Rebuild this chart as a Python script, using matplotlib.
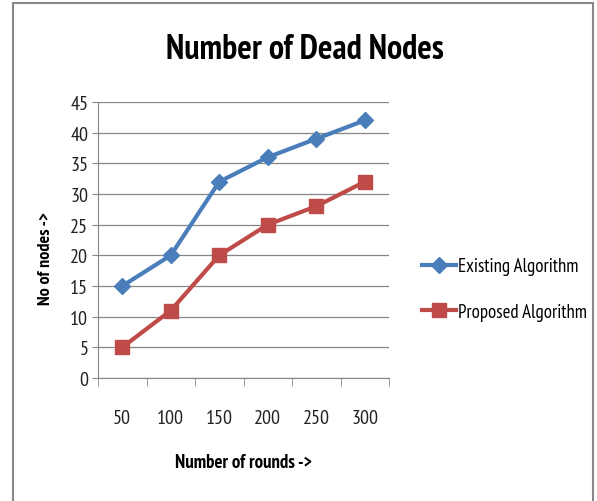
import matplotlib
matplotlib.use("Agg")
import matplotlib.pyplot as plt
from matplotlib.patches import Rectangle
from matplotlib import font_manager as fm

rounds = ["50", "100", "150", "200", "250", "300"]
existing = [15, 20, 32, 36, 39, 42]
proposed = [5, 11, 20, 25, 28, 32]
yticks = [0, 5, 10, 15, 20, 25, 30, 35, 40, 45]

available = {f.name for f in fm.fontManager.ttflist}
family = 'DejaVu Sans'
for cand in ['PT Sans Narrow', 'Archivo Narrow', 'Asap Condensed', 'Roboto Condensed', 'Carlito', 'Lato']:
    if cand in available:
        family = cand
        break
plt.rcParams['font.family'] = [family, 'DejaVu Sans']

W, H = 597, 502
fig = plt.figure(figsize=(W/100, H/100), dpi=100)
ax = fig.add_axes([98/W, 1-379/H, (389-98)/W, (379-103)/H])

x = list(range(1, len(rounds)+1))
ax.plot(x, existing, color='#4A7EBB', lw=3, marker='D', ms=8.5, label='Existing Algorithm')
ax.plot(x, proposed, color='#BE4B48', lw=3, marker='s', ms=10, label='Proposed Algorithm')

ax.set_xlim(0.5, len(rounds)+0.5)
ax.set_ylim(0, 45)
ax.set_yticks(yticks)
ax.set_yticklabels([str(v) for v in yticks], fontsize=14.5, color='#222222')
ax.set_xticks(x)
ax.set_xticklabels(rounds, fontsize=14.5, color='#222222')
ax.set_xticks([i+0.5 for i in range(len(rounds)+1)], minor=True)
ax.tick_params(axis='x', which='major', length=0, pad=22)
ax.tick_params(axis='x', which='minor', length=6, color='#868686')
ax.tick_params(axis='y', length=4, color='#868686', pad=3)
ax.grid(axis='y', color='#868686', lw=0.9)
ax.set_axisbelow(True)
for s in ['top', 'right']:
    ax.spines[s].set_visible(False)
for s in ['left', 'bottom']:
    ax.spines[s].set_color('#868686')

fig.text(305/W, 1-50/H, "Number of Dead Nodes", fontsize=24.5, fontweight='bold', ha='center', va='center')
fig.text(46/W, 1-259/H, "No of nodes ->", fontsize=13, fontweight='bold', rotation=90, ha='center', va='center')
fig.text(244/W, 1-463/H, "Number of rounds ->", fontsize=13.5, fontweight='bold', ha='center', va='center')

leg = fig.legend(loc='center left', bbox_to_anchor=(405/W, 1-290/H), frameon=False,
                 fontsize=13.5, handlelength=1.8, labelspacing=1.45, handletextpad=0.15)

fig.patches.append(Rectangle((13/W, -0.01), (593-13)/W, 1-4/H+0.01, transform=fig.transFigure,
                             fill=False, edgecolor='#888888', lw=1.5))

fig.savefig("out.png", dpi=100)
